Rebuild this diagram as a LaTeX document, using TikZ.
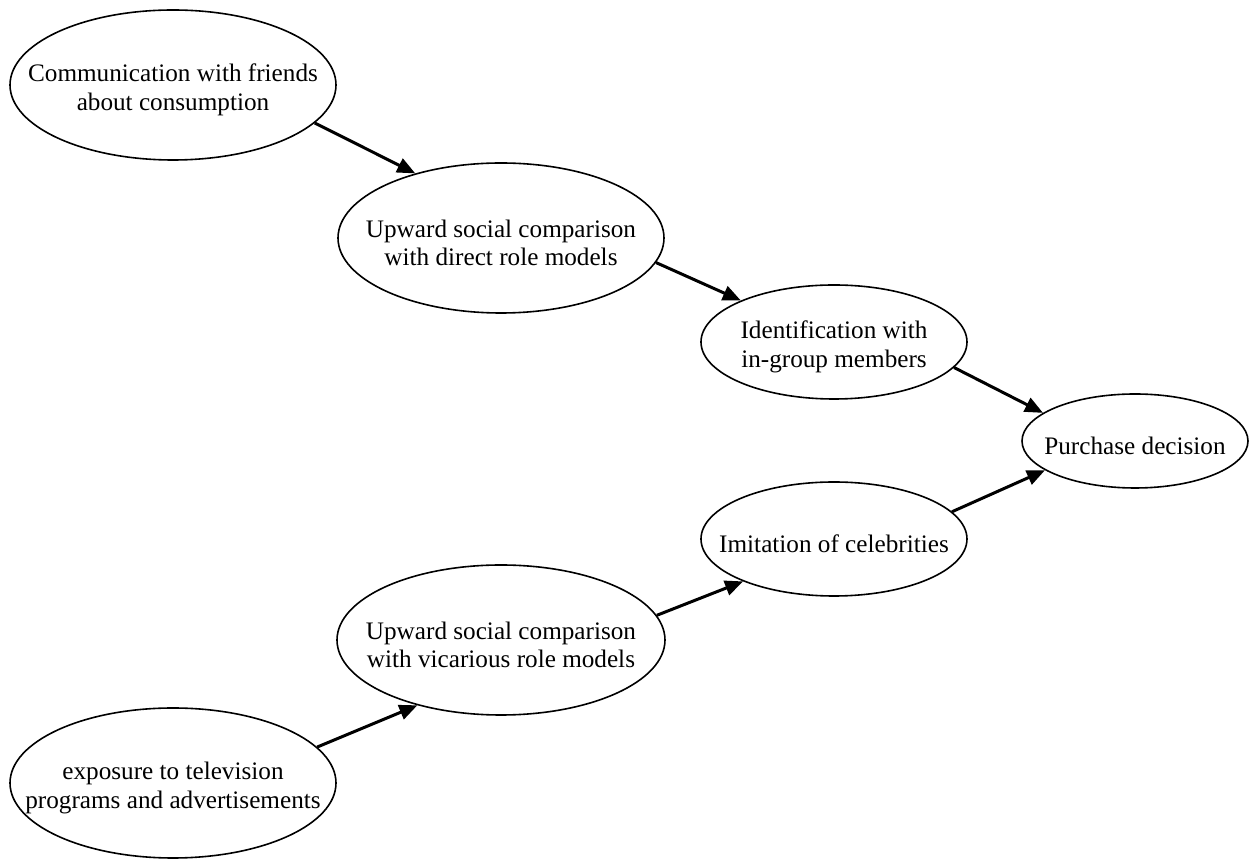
\documentclass[tikz,border=0pt]{standalone}
\usepackage{fontspec}
\setmainfont{Liberation Serif}
\usetikzlibrary{arrows.meta,shapes.geometric}
\tikzset{
  oval/.style={ellipse, draw=black, line width=0.8pt, inner sep=0pt, fill=white},
  txt/.style={align=center, inner sep=0pt, yshift=-2.5pt, font=\fontsize{12.6}{14.3}\selectfont},
  link/.style={line width=1.5pt, -{Triangle[length=9pt,width=7.5pt]}}
}
\begin{document}
\begin{tikzpicture}[x=0.5pt, y=-0.5pt]
\fill[white] (0,0) rectangle (1250,860);
\useasboundingbox (0,0) rectangle (1250,860);

\node[oval, minimum width=163pt, minimum height=75pt,
  label={[txt]center:{Communication with friends\\about consumption}}] (comm) at (173,85) {};
\node[oval, minimum width=163pt, minimum height=75pt,
  label={[txt]center:{Upward social comparison\\with direct role models}}] (direct) at (501,238) {};
\node[oval, minimum width=133pt, minimum height=57pt,
  label={[txt]center:{Identification with\\in-group members}}] (ident) at (834,342) {};
\node[oval, minimum width=113pt, minimum height=47pt,
  label={[txt]center:{Purchase decision}}] (purch) at (1135,441) {};
\node[oval, minimum width=133pt, minimum height=57pt,
  label={[txt]center:{Imitation of celebrities}}] (imit) at (834,539) {};
\node[oval, minimum width=164pt, minimum height=75pt,
  label={[txt]center:{Upward social comparison\\with vicarious role models}}] (vicar) at (501,640) {};
\node[oval, minimum width=163pt, minimum height=75pt,
  label={[txt]center:{exposure to television\\programs and advertisements}}] (expo) at (173,783) {};

\draw[link] (comm.-15) -- (direct.143.4);
\draw[link] (direct.-9.2) -- (ident.156.5);
\draw[link] (ident.-12.4) -- (purch.163.6);
\draw[link] (imit.13.3) -- (purch.198.6);
\draw[link] (vicar.9.8) -- (imit.205);
\draw[link] (expo.14.6) -- (vicar.218.6);
\end{tikzpicture}
\end{document}
